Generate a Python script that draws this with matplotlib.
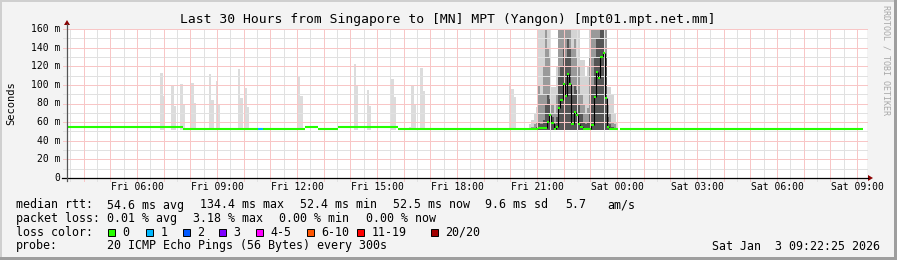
import numpy as np
import matplotlib
matplotlib.use("Agg")
import matplotlib.pyplot as plt
from matplotlib.patches import Rectangle, Polygon

W, H = 897, 260
MONO = "DejaVu Sans Mono"

# ---------------- data ----------------
title = "Last 30 Hours from Singapore to [MN] MPT (Yangon) [mpt01.mpt.net.mm]"
T0 = 3 + 22 / 60 + 25 / 3600          # Fri 03:22:25 (hours since Fri 00:00)
STEP = 5 / 60                          # one sample = 5 minutes
xtick_hours = [6, 9, 12, 15, 18, 21, 24, 27, 30, 33]
xtick_labels = ["Fri 06:00", "Fri 09:00", "Fri 12:00", "Fri 15:00", "Fri 18:00",
                "Fri 21:00", "Sat 00:00", "Sat 03:00", "Sat 06:00", "Sat 09:00"]
ytick_vals = [0, 20, 40, 60, 80, 100, 120, 140, 160]
ytick_labels = ["0", "20 m", "40 m", "60 m", "80 m", "100 m", "120 m", "140 m", "160 m"]

# flat median segments (sample index from, to), value in ms, loss class
flat_k0 = [0, 52, 86, 88, 107, 113, 122, 149, 249]
flat_k1 = [52, 86, 88, 107, 113, 122, 149, 212, 358]
flat_ms = [54.3, 52.4, 52.4, 52.4, 54.3, 52.4, 54.3, 52.4, 52.4]
flat_loss = [0, 0, 1, 0, 0, 0, 0, 0, 0]

# busy period: per-sample median (starting at sample 212)
busy_median_k0 = 212
busy_median = [54.0, 53.4, 53.4, 54.0, 60.5, 67.7, 58.7, 52.6, 55.1, 75.5,
               83.8, 100.8, 88.4, 111.5, 100.9, 58.5, 71.2, 67.9, 58.5, 55.1,
               52.6, 52.6, 52.6, 52.6, 56.9, 87.0, 113.8, 107.7, 129.9, 134.4,
               86.2, 54.8, 52.4, 52.4, 52.4, 52.4]

# busy period smoke (starting at sample 208): outer / middle / inner band tops
busy_smoke_k0 = 208
smoke_outer = [58, 62, 70, 76,
               165, 165, 165, 165, 165, 165, 98, 98, 120, 165,
               165, 165, 165, 165, 165, 165, 165, 165, 165, 127,
               127, 110, 120, 165, 165, 165, 165, 165, 165, 165,
               165, 98, 98, 90, 70, 60]
smoke_mid = [54, 55, 58, 60,
             100, 90, 120, 165, 140, 130, 80, 70, 90, 165,
             165, 165, 165, 165, 165, 140, 150, 130, 120, 90,
             80, 70, 75, 130, 165, 165, 165, 165, 165, 165,
             165, 80, 70, 60, 58, 54]
smoke_dark = [53, 53, 54, 55,
              60, 58, 62, 80, 90, 85, 65, 58, 65, 110,
              120, 140, 130, 150, 140, 90, 100, 95, 80, 70,
              60, 58, 60, 70, 100, 130, 150, 150, 160, 165,
              130, 65, 58, 55, 54, 53]

# isolated smoke spikes: sample index and top of smoke (ms)
iso_k = [42, 43, 47, 48, 51, 52, 56, 57, 64, 65, 67, 68, 77, 78, 80, 81,
         104, 105, 129, 130, 135, 136, 146, 147, 154, 155, 156, 159, 160,
         199, 200, 201, 434, 435, 448, 449, 456, 485, 505, 506, 512, 513,
         532, 533, 535]
iso_top = [113, 88, 98.8, 77, 101, 79, 101.7, 81, 111.7, 83.8, 104, 79, 117, 86, 97, 76.6,
           110, 88, 122.4, 100, 94.5, 77, 106, 87, 55, 100, 79, 118.5, 93.4,
           101.7, 95.6, 87, 70, 143, 63, 107, 56, 54, 66.5, 114, 70, 124,
           70, 128, 55]

loss_colors = ["#26ff00", "#00b8ff", "#0059ff", "#7e00ff", "#ff00ff",
               "#ff5500", "#ff0000", "#a10000"]
loss_labels = ["0", "1", "2", "3", "4-5", "6-10", "11-19", "20/20"]

# ---------------- figure ----------------
fig = plt.figure(figsize=(W / 100, H / 100), dpi=100, facecolor="#f3f3f3")


def fx(px):
    return px / W


def fy(py):
    return 1 - py / H


# frame
for (x, y, w, h, c) in [(0, fy(2), 1, 2 / H, "#cfcfcf"),
                        (0, 0, fx(2), 1, "#cfcfcf"),
                        (0, 0, 1, 3 / H, "#9e9e9e"),
                        (fx(894), 0, 3 / W, 1, "#9e9e9e")]:
    fig.add_artist(Rectangle((x, y), w, h, transform=fig.transFigure,
                             facecolor=c, edgecolor="none", zorder=-5))

X0, X1, YT, YB = 67, 867, 29, 178
ax = fig.add_axes([fx(X0), fy(YB), fx(X1 - X0), fy(YT) - fy(YB)])
ax.set_facecolor("white")
ax.set_xlim(T0, T0 + 30)
ax.set_ylim(0, 160)
for s in ax.spines.values():
    s.set_visible(False)
ax.set_xticks([])
ax.set_yticks([])


def kt(k):
    return T0 + np.asarray(k, dtype=float) * STEP


BASE = 51.5
# isolated smoke
ax.bar(kt(iso_k), np.array(iso_top) - BASE, width=STEP, bottom=BASE, align="edge",
       color="#dcdcdc", linewidth=0, zorder=1)
# busy smoke
kb = busy_smoke_k0 + np.arange(len(smoke_outer))
ax.bar(kt(kb), np.array(smoke_outer) - BASE, width=STEP, bottom=BASE, align="edge",
       color="#d4d4d4", linewidth=0, zorder=1)
ax.bar(kt(kb), np.array(smoke_mid) - BASE, width=STEP, bottom=BASE, align="edge",
       color="#9a9a9a", linewidth=0, zorder=1.1)
ax.bar(kt(kb), np.array(smoke_dark) - BASE, width=STEP, bottom=BASE, align="edge",
       color="#555555", linewidth=0, zorder=1.2)

# grid (dotted in the original; drawn as light solid lines)
gray = "#e1e1e1"
red = "#f8c6c6"
lw1 = 0.72
ext_x = 4 / 26.667
ext_y = 3 / 0.93125
for h in np.arange(3.5, T0 + 30, 1.0):
    ax.plot([h, h], [-ext_y, 160], color=gray, lw=lw1, zorder=2, clip_on=False)
for h in np.arange(4, T0 + 30, 1.0):
    ax.plot([h, h], [-ext_y, 160], color=red, lw=lw1, zorder=2.1, clip_on=False)
for v in range(10, 160, 20):
    ax.plot([T0 - ext_x, T0 + 30], [v, v], color=gray, lw=lw1, zorder=2, clip_on=False)
for v in range(20, 161, 20):
    ax.plot([T0 - ext_x, T0 + 30], [v, v], color=red, lw=lw1, zorder=2.1, clip_on=False)

# median: flat parts
for a, b, v, l in zip(flat_k0, flat_k1, flat_ms, flat_loss):
    ax.hlines(v, kt(a), kt(b), colors=loss_colors[l], linewidth=1.5, zorder=3)
# median: busy period
km = busy_median_k0 + np.arange(len(busy_median))
mv = np.array(busy_median)
for i in range(len(mv) - 1):
    if abs(mv[i + 1] - mv[i]) > 2:
        ax.vlines(kt(km[i + 1]), min(mv[i], mv[i + 1]), max(mv[i], mv[i + 1]),
                  colors="black", linewidth=0.8, zorder=3)
ax.hlines(mv, kt(km), kt(km + 1), colors=loss_colors[0], linewidth=1.5, zorder=3.5)

# axes lines and arrows
fig.add_artist(plt.Line2D([fx(62), fx(X1 + 1)], [fy(YB), fy(YB)], transform=fig.transFigure,
                          color="black", linewidth=0.9))
fig.add_artist(plt.Line2D([fx(X0), fx(X0)], [fy(YB + 3), fy(24)], transform=fig.transFigure,
                          color="#555555", linewidth=0.9))
fig.add_artist(Polygon([[fx(X0), fy(20)], [fx(X0 - 3), fy(25)], [fx(X0 + 3), fy(25)]],
                       closed=True, transform=fig.transFigure, facecolor="#8b0000", edgecolor="none"))
fig.add_artist(Polygon([[fx(873), fy(YB)], [fx(868), fy(YB - 3)], [fx(868), fy(YB + 3)]],
                       closed=True, transform=fig.transFigure, facecolor="#8b0000", edgecolor="none"))

# tick labels
for h, lab in zip(xtick_hours, xtick_labels):
    ax.text(h, -9.5, lab, ha="center", va="center", fontsize=7, family=MONO, color="black",
            clip_on=False)
for v, lab in zip(ytick_vals, ytick_labels):
    ax.text(T0 - 7 / 26.667, v, lab, ha="right", va="center", fontsize=7, family=MONO,
            color="black", clip_on=False)

fig.text(fx(11), fy(103.5), "Seconds", rotation=90, ha="center", va="center",
         fontsize=7.5, family=MONO, color="black")
fig.text(fx(448), fy(19), title, ha="center", va="center", fontsize=9.4, family=MONO,
         color="black")
fig.text(fx(886), fy(5), "RRDTOOL / TOBI OETIKER", rotation=-90, ha="center", va="top",
         fontsize=6, family=MONO, color="#a8a8a8")

# legend
LF = 8.4


def lt(x, y, s, ha="left"):
    fig.text(fx(x), fy(y), s, ha=ha, va="center", fontsize=LF, family=MONO, color="black")


lt(16, 205, "median rtt:")
for x, s in zip([107, 200, 300, 393, 485, 565, 607],
                ["54.6 ms avg", "134.4 ms max", "52.4 ms min", "52.5 ms now",
                 "9.6 ms sd", "5.7", "am/s"]):
    lt(x, 205, s)
lt(16, 218.5, "packet loss:")
for x, s in zip([107, 193, 279, 366],
                ["0.01 % avg", "3.18 % max", "0.00 % min", "0.00 % now"]):
    lt(x, 218.5, s)
lt(16, 232, "loss color:")
box_x = [108, 146, 183, 219, 256, 307, 357, 431]
for bx, c, lab in zip(box_x, loss_colors, loss_labels):
    fig.add_artist(Rectangle((fx(bx), fy(236)), fx(7), fy(228.5) - fy(236),
                             transform=fig.transFigure, facecolor=c, edgecolor="black",
                             linewidth=0.7))
    lt(bx + 14.5, 232, lab)
lt(16, 246, "probe:")
lt(107, 246, "20 ICMP Echo Pings (56 Bytes) every 300s")
lt(880, 246, "Sat Jan  3 09:22:25 2026", ha="right")

fig.savefig("out.png", dpi=100, facecolor=fig.get_facecolor())
